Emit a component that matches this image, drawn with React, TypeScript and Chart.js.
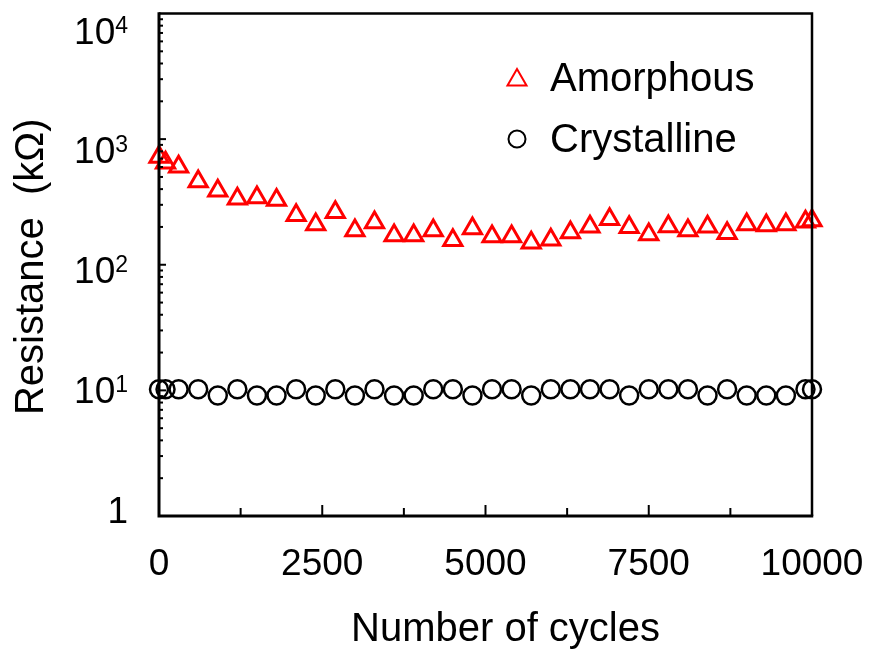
import React, { useEffect, useRef } from 'react';
import { Chart, registerables } from 'chart.js';

Chart.register(...registerables);

// ---- data ----
const cycles = [0, 100, 300, 600, 900, 1200, 1500, 1800, 2100, 2400, 2700, 3000, 3300, 3600, 3900, 4200, 4500, 4800, 5100, 5400, 5700, 6000, 6300, 6600, 6900, 7200, 7500, 7800, 8100, 8400, 8700, 9000, 9300, 9600, 9900, 10000];
const amorphous = [720, 650, 604, 459, 389, 336, 343, 327, 248, 209, 262, 187, 217, 171, 171, 187, 157, 194, 168, 168, 150, 158, 181, 201, 230, 199, 174, 202, 187, 201, 178, 209, 205, 209, 220, 225];
const crystalline = [10.2, 10.2, 10.2, 10.2, 9.1, 10.2, 9.1, 9.1, 10.2, 9.1, 10.2, 9.1, 10.2, 9.1, 9.1, 10.2, 10.2, 9.1, 10.2, 10.2, 9.1, 10.2, 10.2, 10.2, 10.2, 9.1, 10.2, 10.2, 10.2, 9.1, 10.2, 9.1, 9.1, 9.1, 10.2, 10.2];

const seriesNames = ['Amorphous', 'Crystalline'];
const xTickValues = [0, 2500, 5000, 7500, 10000];
const xMinorTickValues = [1250, 3750, 6250, 8750];
const yTickValues = [1, 10, 100, 1000, 10000];
const yTickBases = ['1', '10', '10', '10', '10'];
const yTickExponents = ['', '1', '2', '3', '4'];
const xTitle = 'Number of cycles';
const yTitle = 'Resistance  (kΩ)';

const FONT = '"Liberation Sans", Arial, sans-serif';
const RED = '#ff0000';

function triPath(ctx: CanvasRenderingContext2D, x: number, y: number, r: number) {
  let rad = 0;
  ctx.beginPath();
  ctx.moveTo(x + Math.sin(rad) * r, y - Math.cos(rad) * r);
  rad += (2 * Math.PI) / 3;
  ctx.lineTo(x + Math.sin(rad) * r, y - Math.cos(rad) * r);
  rad += (2 * Math.PI) / 3;
  ctx.lineTo(x + Math.sin(rad) * r, y - Math.cos(rad) * r);
  ctx.closePath();
}

const decorPlugin = {
  id: 'decor',
  afterDraw(chart: any) {
    const ctx: CanvasRenderingContext2D = chart.ctx;
    const area = chart.chartArea;
    const xs = chart.scales.x;
    const ys = chart.scales.y;
    ctx.save();
    ctx.strokeStyle = '#000';
    ctx.fillStyle = '#000';
    ctx.lineCap = 'butt';

    // frame
    ctx.lineWidth = 2.5;
    ctx.beginPath();
    ctx.moveTo(area.left, area.top);
    ctx.lineTo(area.right, area.top);
    ctx.lineTo(area.right, area.bottom);
    ctx.stroke();
    ctx.lineWidth = 3;
    ctx.beginPath();
    ctx.moveTo(area.left, area.top - 1.25);
    ctx.lineTo(area.left, area.bottom);
    ctx.lineTo(area.right + 1.25, area.bottom);
    ctx.stroke();

    // x ticks (inward)
    ctx.lineWidth = 2;
    xTickValues.forEach((v) => {
      if (v === 0 || v === 10000) return;
      const px = xs.getPixelForValue(v);
      ctx.beginPath();
      ctx.moveTo(px, area.bottom);
      ctx.lineTo(px, area.bottom - 11);
      ctx.stroke();
    });
    xMinorTickValues.forEach((v) => {
      const px = xs.getPixelForValue(v);
      ctx.beginPath();
      ctx.moveTo(px, area.bottom);
      ctx.lineTo(px, area.bottom - 8);
      ctx.stroke();
    });
    // y ticks (inward)
    for (let d = 0; d < 4; d++) {
      for (let m = 1; m <= 9; m++) {
        const v = m * Math.pow(10, d);
        if (m === 1 && d === 0) continue;
        const py = ys.getPixelForValue(v);
        ctx.beginPath();
        ctx.moveTo(area.left, py);
        ctx.lineTo(area.left + (m === 1 ? 7 : 4), py);
        ctx.stroke();
      }
    }

    // x tick labels
    ctx.font = `37px ${FONT}`;
    ctx.textAlign = 'center';
    ctx.textBaseline = 'alphabetic';
    xTickValues.forEach((v) => {
      const px = xs.getPixelForValue(v);
      ctx.fillText(String(v), px, area.bottom + 59);
    });

    // y tick labels with superscripts
    const right = area.left - 31;
    const span = area.bottom - area.top;
    yTickValues.forEach((v, i) => {
      const py = ys.getPixelForValue(v);
      const cy = area.top + 17 + (py - area.top) * ((span - 23) / span);
      const base = cy + 13;
      ctx.font = `23px ${FONT}`;
      const exp = yTickExponents[i];
      const expW = exp ? ctx.measureText(exp).width : 0;
      if (exp) {
        ctx.textAlign = 'left';
        ctx.fillText(exp, right - expW, base - 11);
      }
      ctx.font = `37px ${FONT}`;
      ctx.textAlign = 'right';
      ctx.fillText(yTickBases[i], right - expW, base);
    });

    // axis titles
    ctx.font = `40px ${FONT}`;
    ctx.textAlign = 'center';
    ctx.fillText(xTitle, (area.left + area.right) / 2 + 20, area.bottom + 125);
    ctx.save();
    ctx.translate(43, (area.top + area.bottom) / 2 + 2);
    ctx.rotate(-Math.PI / 2);
    ctx.fillText(yTitle, 0, 0);
    ctx.restore();

    // legend
    const lx = area.left + 358;
    const tx = area.left + 391;
    ctx.lineWidth = 2;
    ctx.strokeStyle = RED;
    triPath(ctx, lx, 80, 11);
    ctx.stroke();
    ctx.strokeStyle = '#000';
    ctx.beginPath();
    ctx.arc(lx, 139, 8.5, 0, Math.PI * 2);
    ctx.stroke();
    ctx.font = `40px ${FONT}`;
    ctx.textAlign = 'left';
    ctx.fillStyle = '#000';
    ctx.fillText(seriesNames[0], tx, 91);
    ctx.fillText(seriesNames[1], tx, 152);

    ctx.restore();
  },
};

export default function App() {
  const ref = useRef<HTMLCanvasElement | null>(null);
  useEffect(() => {
    if (!ref.current) return;
    const chart = new Chart(ref.current, {
      type: 'scatter',
      data: {
        datasets: [
          {
            label: seriesNames[0],
            data: cycles.map((c, i) => ({ x: c, y: amorphous[i] })),
            pointStyle: 'triangle',
            pointRadius: 10.5,
            pointBorderWidth: 3,
            borderColor: RED,
            backgroundColor: 'rgba(0,0,0,0)',
            showLine: false,
            clip: false,
          } as any,
          {
            label: seriesNames[1],
            data: cycles.map((c, i) => ({ x: c, y: crystalline[i] })),
            pointStyle: 'circle',
            pointRadius: 9,
            pointBorderWidth: 2.5,
            borderColor: '#000',
            backgroundColor: 'rgba(0,0,0,0)',
            showLine: false,
            clip: false,
          } as any,
        ],
      },
      options: {
        animation: false,
        responsive: false,
        events: [],
        layout: { padding: { top: 13, right: 60, left: 0, bottom: 0 } },
        plugins: { legend: { display: false }, tooltip: { enabled: false }, title: { display: false } },
        scales: {
          x: {
            type: 'linear',
            min: 0,
            max: 10000,
            grid: { display: false },
            border: { display: false },
            ticks: { display: false },
            afterFit: (s: any) => { s.height = 134; },
          },
          y: {
            type: 'logarithmic',
            min: 1,
            max: 10000,
            grid: { display: false },
            border: { display: false },
            ticks: { display: false },
            afterFit: (s: any) => { s.width = 159; },
          },
        },
      } as any,
      plugins: [decorPlugin],
    });
    return () => chart.destroy();
  }, []);
  return (
    <div style={{ position: 'absolute', left: 0, top: 0, width: 872, height: 650, background: '#fff' }}>
      <canvas ref={ref} width={872} height={650} style={{ display: 'block' }} />
    </div>
  );
}
